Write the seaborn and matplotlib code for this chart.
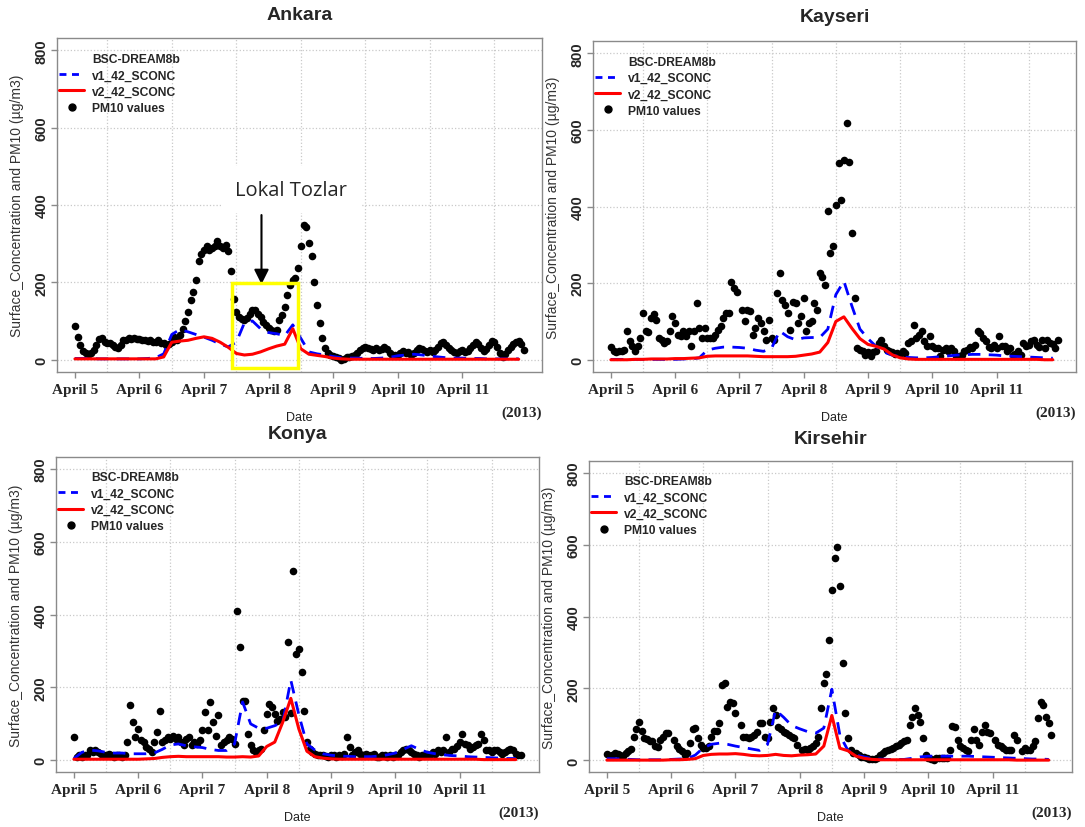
import numpy as np
import matplotlib
matplotlib.use("Agg")
import matplotlib.pyplot as plt
import seaborn as sns
from matplotlib.lines import Line2D
from matplotlib.patches import Rectangle

# --- dados (PM10 horario, modelos a cada 3 h) ---
DAY_LABELS = ["April 5", "April 6", "April 7", "April 8", "April 9", "April 10", "April 11"]
Y_TICKS = [0, 200, 400, 600, 800]
N = None

ANKARA_PM10 = [
    87, 59, 37, 22, 16, 13, 16, 24, 37, 53, 55, 46, 42, 42, 39, 33, 29, 39, 50, 50, 55, 53, 55, 53,
    53, 50, 52, 48, 50, 46, 45, 50, 44, 42, 37, 40, 46, 59, 52, 65, 80, 100, 124, 154, 176, 206, 254, 273,
    284, 293, 284, 288, 293, 306, 293, 290, 297, 280, 228, 158, 124, 111, 106, 102, 108, 119, 128, 128, 119, 111, 98, 89,
    81, 76, 74, 76, 102, 115, 137, 167, 193, 206, 210, 236, 293, 349, 342, 301, 269, 202, 141, 94, 55, 30, 18, 13,
    10, 7, 3, -2, 1, 7, 7, 10, 13, 18, 24, 30, 33, 29, 27, 24, 29, 24, 27, 33, 27, 18, 13, 11,
    11, 16, 22, 18, 20, 13, 18, 24, 29, 27, 22, 20, 24, 20, 24, 33, 42, 46, 37, 30, 24, 20, 16, 22,
    25, 20, 22, 30, 38, 45, 40, 30, 22, 28, 38, 49, 45, 32, 18, 8, 15, 25, 32, 40, 46, 49, 40, 25,
]
ANKARA_V1 = [
    3, 3, 3, 2, 2, 2, 2, 2,
    2, 3, 5, 15, 65, 78, 72, 65,
    58, 50, 40, 33, 45, 95, 100, 80,
    70, 67, 62, 90, 55, 20, 15, 12,
    8, 5, 4, 4, 3, 3, 4, 6,
    10, 12, 14, 12, 9, 7, 5, 4,
    4, 3, 3, 2, 2, 2, 2, 2,
]
ANKARA_V2 = [
    2, 2, 2, 2, 2, 2, 2, 2,
    2, 2, 2, 7, 45, 48, 50, 55,
    59, 55, 45, 32, 16, 12, 14, 20,
    28, 35, 40, 80, 28, 14, 11, 8,
    4, 2, 1, 1, 1, 1, 1, 1,
    1, 1, 1, 1, 1, 1, 1, 1,
    1, 1, 1, 1, 1, 1, 1, 1,
]

KAYSERI_PM10 = [
    32, 23, 20, 23, 23, 26, 74, 48, 35, 23, 35, 58, 122, 74, 72, 109, 119, 104, 57, 52, 43, 50, 74, 113,
    96, 65, 61, 74, 63, 74, 35, 74, 148, 83, 57, 83, 57, 57, 57, 65, 78, 87, 109, 122, 122, 204, 187, 178,
    N, 130, 100, 130, 126, 65, 83, 109, 96, 74, 52, 104, 57, 52, 174, 226, 157, 143, 122, 78, 152, 148, 96, 113,
    161, 74, 96, 100, 148, 130, 226, 217, 196, 387, 278, 296, 404, 513, 417, 522, 617, 517, 330, 161, 30, 26, 22, 13,
    20, 11, 20, 22, 43, 52, 35, 26, 23, 20, 15, 17, 15, 22, 17, 43, 48, 91, 57, 65, 74, 48, 35, 61,
    35, 30, 30, 11, 26, 30, 23, 30, 22, 11, 9, 13, 23, 26, 32, 30, 39, 74, 70, 57, 48, 32, 30, 39,
    30, 61, 35, 37, 22, 30, 13, 15, 22, 13, 43, 35, 39, 48, 52, 39, 32, 52, 30, 52, 45, 40, 30, 52,
]
KAYSERI_V1 = [
    1, 1, 1, 1, 1, 1, 1, 1,
    1, 2, 2, 5, 25, 30, 33, 33,
    32, 30, 25, 22, 30, 75, 60, 52,
    57, 58, 58, 80, 170, 205, 140, 80,
    55, 35, 20, 12, 8, 6, 5, 5,
    6, 8, 10, 12, 13, 14, 14, 13,
    12, 10, 9, 8, 7, 6, 5, 4,
]
KAYSERI_V2 = [
    0, 0, 0, 1, 1, 2, 2, 2,
    3, 3, 4, 5, 9, 10, 10, 10,
    10, 10, 9, 8, 8, 8, 8, 9,
    12, 15, 20, 45, 100, 112, 82, 55,
    40, 35, 28, 13, 5, 2, 1, 1,
    1, 1, 1, 1, 1, 1, 1, 1,
    1, 1, 1, 1, 1, 1, 0, 0,
]

KONYA_PM10 = [
    64, 9, 14, 9, 14, 14, 27, 23, 27, 23, 18, 14, 14, 18, 14, 9, 14, 14, 9, 14, 50, 152, 105, 64,
    86, 55, 50, 36, 32, 23, 50, 77, 136, 50, 55, 64, 59, 68, 59, 64, 50, 41, 59, 64, 41, 50, 45, 55,
    82, 132, 82, 161, 105, 68, 125, 41, 50, 55, 64, 59, 45, 409, 312, 164, 164, 73, 41, 27, 23, 27, 32, 82,
    127, 155, 145, 127, 109, 114, 132, 120, 325, 130, 518, 291, 305, 241, 136, 50, 32, 23, 18, 14, 14, 14, 12, 9,
    14, 14, 9, 14, 12, 18, 64, 36, 14, 23, 27, 18, 14, 18, 14, 14, 18, 9, 9, 14, 14, 9, 14, 9,
    14, 14, 23, 27, 32, 27, 23, 18, 14, 9, 14, 14, 18, 14, 23, 18, 27, 23, 27, 64, 23, 32, 30, 40,
    50, 73, 45, 41, 32, 36, 41, 45, 73, 55, 27, 27, 23, 27, 27, 23, 18, 23, 27, 32, 27, 18, 14, 14,
]
KONYA_V1 = [
    5, 22, 28, 26, 22, 20, 20, 18,
    18, 18, 20, 30, 42, 45, 40, 37,
    35, 30, 27, 27, 45, 160, 100, 88,
    88, 95, 105, 220, 125, 45, 28, 18,
    14, 12, 11, 10, 10, 10, 12, 15,
    20, 30, 40, 30, 22, 18, 15, 13,
    12, 10, 9, 8, 7, 6, 5, 5,
]
KONYA_V2 = [
    3, 3, 3, 3, 3, 3, 3, 3,
    3, 4, 5, 8, 10, 11, 10, 10,
    10, 10, 10, 9, 9, 10, 9, 12,
    38, 50, 105, 170, 86, 25, 10, 6,
    4, 3, 3, 3, 3, 3, 3, 3,
    3, 3, 3, 3, 3, 3, 3, 3,
    3, 3, 3, 2, 2, 2, 2, 2,
]

KIRSEHIR_PM10 = [
    18, 13, 16, 20, 18, 16, 13, 20, 25, 31, 66, 87, 108, 83, 62, 59, 53, 55, 41, 37, 57, 66, 76, 77,
    N, 57, 39, 31, 25, 16, 20, 48, 87, 89, 62, 43, 34, 34, 39, 66, 83, 83, 105, 209, 216, 149, 163, 160,
    133, N, 99, 66, 65, 62, 66, 71, 80, 103, 105, 66, 62, 108, 145, 126, 92, 87, 80, 76, 71, 66, 62, 43,
    N, 29, 31, 29, 34, 39, 48, 66, 145, 214, 241, 334, 474, 562, 592, 486, 271, 131, 62, 29, 20, 22, 16, 11,
    9, 6, 4, 4, 5, 6, 16, 20, 25, 29, 31, 34, 39, 43, 48, 53, 57, 99, 122, 145, 126, 108, 62, 16,
    6, 4, 2, 6, 6, 6, 6, 8, 29, 96, 94, 57, 39, 34, 29, 25, 57, 87, 57, 43, 80, 99, 80, 76,
    N, 57, 43, 39, 34, 29, 29, 29, 71, 57, N, 25, 34, 29, 29, 39, 53, 117, 163, 154, 122, 103, 71,
]
KIRSEHIR_V1 = [
    5, 5, 4, 3, 2, 2, 2, 2,
    3, 4, 5, 15, 35, 45, 48, 45,
    40, 36, 32, 28, 45, 140, 120, 97,
    88, 80, 76, 90, 198, 70, 28, 15,
    10, 5, 4, 3, 3, 3, 6, 10,
    12, 12, 12, 12, 12, 12, 11, 10,
    9, 8, 7, 6, 5, 4, 4, 3,
]
KIRSEHIR_V2 = [
    1, 1, 1, 1, 1, 1, 1, 1,
    2, 2, 3, 5, 14, 17, 18, 18,
    19, 17, 14, 13, 14, 17, 14, 13,
    15, 16, 18, 40, 125, 34, 27, 12,
    6, 3, 2, 2, 2, 2, 2, 2,
    2, 2, 2, 2, 2, 2, 2, 2,
    2, 2, 2, 1, 1, 1, 1, 1,
]

# --- layout (pixels of the 1085x828 figure) ---
W, H = 1085, 828
PANELS = [
    ("Ankara", ANKARA_PM10, ANKARA_V1, ANKARA_V2, (57, 39, 542, 373), 15),
    ("Kayseri", KAYSERI_PM10, KAYSERI_V1, KAYSERI_V2, (593, 42, 1076, 373), 17),
    ("Konya", KONYA_PM10, KONYA_V1, KONYA_V2, (56, 458, 539, 773), 435),
    ("Kirsehir", KIRSEHIR_PM10, KIRSEHIR_V1, KIRSEHIR_V2, (589, 462, 1072, 773), 440),
]

SANS = ["Liberation Sans", "DejaVu Sans"]
SERIF = ["Liberation Serif", "DejaVu Serif"]
FRAME = "#8a8a8a"
GRID = "#c9c9c9"

sns.set_style("white")
plt.rcParams["font.family"] = SANS

fig = plt.figure(figsize=(W / 100, H / 100), dpi=100)


def fx(px):
    return px / W


def fy(py):
    return 1 - py / H


axes = []
for name, pm, v1, v2, (l, t, r, b), ty in PANELS:
    ax = fig.add_axes([fx(l), fy(b), (r - l) / W, (b - t) / H])
    axes.append(ax)

    pm = np.array(pm, dtype=float)
    hrs = np.arange(len(pm)) / 24.0
    mh = np.arange(len(v1)) * 3 / 24.0

    ax.set_axisbelow(True)
    sns.scatterplot(x=hrs, y=pm, color="black", s=30, linewidth=0, ax=ax,
                    legend=False, zorder=3)
    sns.lineplot(x=mh, y=np.array(v1, float), color="#0000ff", linewidth=2.0,
                 ax=ax, legend=False, zorder=4)
    ax.lines[-1].set_dashes((4.5, 3))
    sns.lineplot(x=mh, y=np.array(v2, float), color="#ff0000", linewidth=2.2,
                 ax=ax, legend=False, zorder=5)

    ax.set_xlim(-0.278, 7.236)
    ax.set_ylim(-32, 832)
    ax.set_xlabel("")
    ax.set_ylabel("")

    ax.set_xticks(range(7))
    ax.set_xticklabels(DAY_LABELS, fontfamily=SERIF, fontweight="bold", fontsize=11)
    ax.set_xticks(np.arange(0.5, 7, 1), minor=True)
    ax.set_yticks(Y_TICKS)
    ax.set_yticklabels([str(v) for v in Y_TICKS], rotation=90, va="center",
                       fontweight="bold", fontsize=10.5)
    ax.tick_params(axis="x", which="major", direction="out", length=4, width=1,
                   color=FRAME, pad=4, bottom=True)
    ax.tick_params(axis="y", which="major", direction="out", length=4, width=1,
                   color=FRAME, pad=2, left=True)
    ax.tick_params(which="minor", length=0)
    ax.grid(which="minor", axis="x", linestyle=":", color=GRID, linewidth=0.9)
    ax.grid(which="major", axis="y", linestyle=":", color=GRID, linewidth=0.9)
    for s in ax.spines.values():
        s.set_color(FRAME)
        s.set_linewidth(1)

    handles = [
        Line2D([], [], color="none"),
        Line2D([], [], color="#0000ff", lw=2.0, dashes=(2.5, 2)),
        Line2D([], [], color="#ff0000", lw=2.2),
        Line2D([], [], color="black", marker="o", markersize=5, linestyle="none"),
    ]
    labels = ["BSC-DREAM8b", "v1_42_SCONC", "v2_42_SCONC", "PM10 values"]
    ax.legend(handles, labels, loc="upper left", bbox_to_anchor=(0.0, 0.962),
              frameon=False, prop={"weight": "bold", "size": 8.7},
              handlelength=2.0, handletextpad=0.7, labelspacing=0.35,
              borderpad=0.2, borderaxespad=0)

    cx = (l + r) / 2
    fig.text(fx(cx), fy(ty), name, ha="center", va="center", fontsize=14,
             fontweight="bold")
    fig.text(fx(cx), fy(b + 45), "Date", ha="center", va="center", fontsize=9,
             color="#222222")
    fig.text(fx(r), fy(b + 40), "(2013)", ha="right", va="center", fontsize=11,
             fontweight="bold", family=SERIF)
    fig.text(fx(l - 40), fy((t + b) / 2), "Surface_Concentration and PM10 (\u00b5g/m3)",
             ha="center", va="center", rotation=90, fontsize=10, color="#333333")

# --- anotacao "Lokal Tozlar" no painel de Ankara ---
ax0 = axes[0]
ax0.text(3.35, 440, "Lokal Tozlar", ha="center", va="center", fontsize=14.5,
         family=["Open Sans", "DejaVu Sans"], zorder=6,
         bbox=dict(facecolor="white", edgecolor="none", pad=10))
ax0.annotate("", xy=(2.89, 195), xytext=(2.89, 374),
             arrowprops=dict(arrowstyle="-|>", color="black", lw=1.5,
                             mutation_scale=22, shrinkA=0, shrinkB=0),
             zorder=7)
ax0.add_patch(Rectangle((2.44, -21), 1.01, 218, fill=False, edgecolor="#ffff00",
                        linewidth=2.5, zorder=8))

fig.savefig("out.png", dpi=100, facecolor="white")
